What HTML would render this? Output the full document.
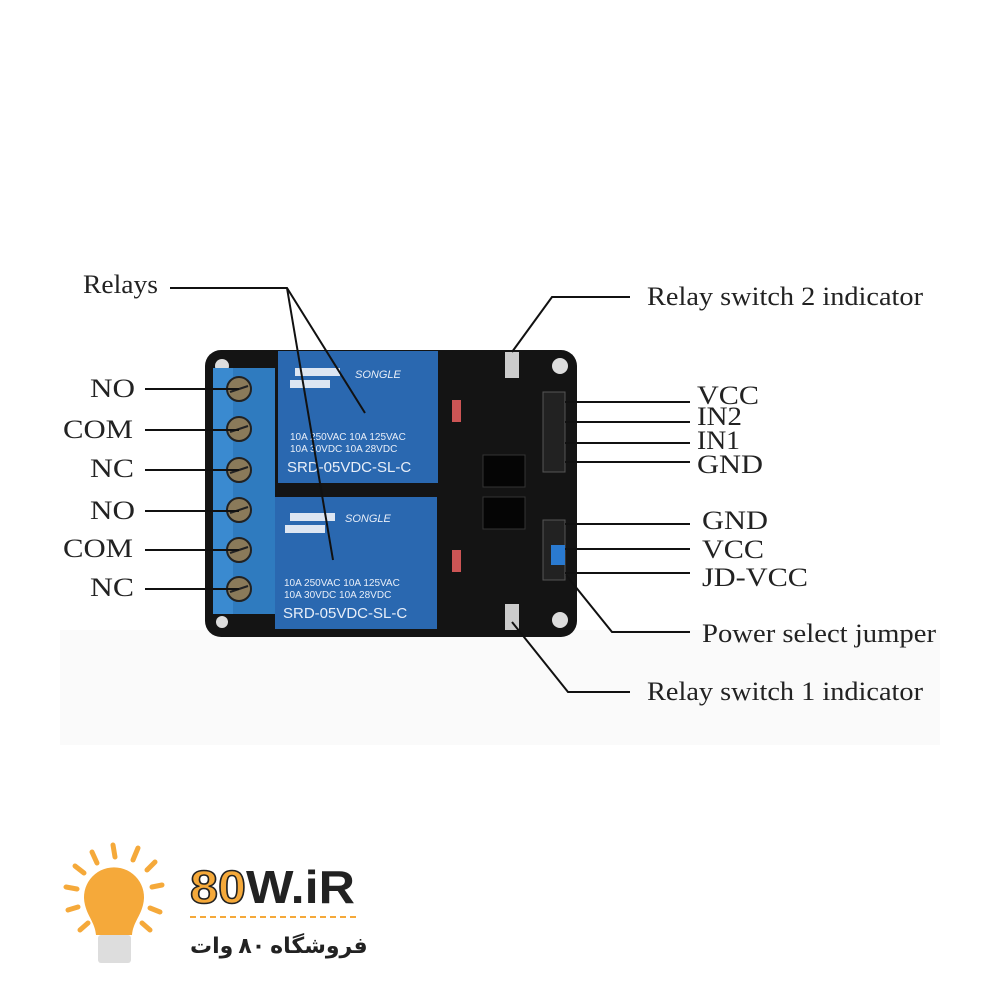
<!DOCTYPE html>
<html><head><style>
html,body{margin:0;padding:0;background:#fff;}
svg{display:block}
.lb{font-family:"Liberation Serif",serif;font-size:26px;fill:#222}
</style></head><body>
<svg width="1000" height="1000" viewBox="0 0 1000 1000" xmlns="http://www.w3.org/2000/svg">
<rect width="1000" height="1000" fill="#fff"/>
<rect x="60" y="630" width="880" height="115" fill="#fafafa"/>
<rect x="205" y="350" width="372" height="287" rx="16" fill="#141414"/>
<circle cx="222" cy="366" r="7" fill="#ddd"/><circle cx="560" cy="366" r="8" fill="#ddd"/>
<circle cx="560" cy="620" r="8" fill="#ddd"/><circle cx="222" cy="622" r="6" fill="#ddd"/>
<rect x="213" y="368" width="62" height="246" fill="#2f7bbf"/>
<rect x="213" y="368" width="20" height="246" fill="#3a8ad0"/>
<g fill="#8a7a5a" stroke="#222" stroke-width="2">
<circle cx="239" cy="389" r="12"/><circle cx="239" cy="429" r="12"/><circle cx="239" cy="470" r="12"/>
<circle cx="239" cy="510" r="12"/><circle cx="239" cy="550" r="12"/><circle cx="239" cy="589" r="12"/>
</g>
<g stroke="#222" stroke-width="2">
<line x1="230" y1="392" x2="248" y2="386"/><line x1="230" y1="432" x2="248" y2="426"/><line x1="230" y1="473" x2="248" y2="467"/>
<line x1="230" y1="513" x2="248" y2="507"/><line x1="230" y1="553" x2="248" y2="547"/><line x1="230" y1="592" x2="248" y2="586"/>
</g>
<rect x="278" y="351" width="160" height="132" fill="#2a68b0"/>
<rect x="275" y="497" width="162" height="132" fill="#2a68b0"/>
<g font-family="Liberation Sans,sans-serif" fill="#e8eef8">
<text x="355" y="378" font-size="11" font-style="italic">SONGLE</text>
<text x="290" y="440" font-size="10">10A 250VAC  10A 125VAC</text>
<text x="290" y="452" font-size="10">10A  30VDC  10A  28VDC</text>
<text x="287" y="472" font-size="15">SRD-05VDC-SL-C</text>
<text x="345" y="522" font-size="11" font-style="italic">SONGLE</text>
<text x="284" y="586" font-size="10">10A 250VAC  10A 125VAC</text>
<text x="284" y="598" font-size="10">10A  30VDC  10A  28VDC</text>
<text x="283" y="618" font-size="15">SRD-05VDC-SL-C</text>
</g>
<rect x="295" y="368" width="45" height="8" fill="#dde6f2"/><rect x="290" y="380" width="40" height="8" fill="#dde6f2"/>
<rect x="290" y="513" width="45" height="8" fill="#dde6f2"/><rect x="285" y="525" width="40" height="8" fill="#dde6f2"/>
<rect x="483" y="455" width="42" height="32" fill="#050505" stroke="#333"/>
<rect x="483" y="497" width="42" height="32" fill="#050505" stroke="#333"/>
<rect x="543" y="392" width="22" height="80" fill="#222" stroke="#555"/>
<rect x="543" y="520" width="22" height="60" fill="#222" stroke="#555"/>
<rect x="551" y="545" width="14" height="20" fill="#2a7ad0"/>
<rect x="505" y="352" width="14" height="26" fill="#ccc"/>
<rect x="505" y="604" width="14" height="26" fill="#ccc"/>
<rect x="452" y="400" width="9" height="22" fill="#c55"/><rect x="452" y="550" width="9" height="22" fill="#c55"/>
<g stroke="#111" stroke-width="2" fill="none">
<polyline points="170,288 287,288 365,413"/><line x1="287" y1="288" x2="333" y2="560"/>
<line x1="145" y1="389" x2="239" y2="389"/><line x1="145" y1="430" x2="239" y2="430"/><line x1="145" y1="470" x2="239" y2="470"/>
<line x1="145" y1="511" x2="239" y2="511"/><line x1="145" y1="550" x2="239" y2="550"/><line x1="145" y1="589" x2="239" y2="589"/>
<polyline points="630,297 552,297 512,352"/>
<line x1="565" y1="402" x2="690" y2="402"/><line x1="565" y1="422" x2="690" y2="422"/>
<line x1="565" y1="443" x2="690" y2="443"/><line x1="565" y1="462" x2="690" y2="462"/>
<line x1="565" y1="524" x2="690" y2="524"/><line x1="565" y1="549" x2="690" y2="549"/>
<line x1="565" y1="573" x2="690" y2="573"/>
<polyline points="690,632 612,632 566,575"/>
<polyline points="630,692 568,692 512,622"/>
</g>
<text class="lb" lengthAdjust="spacingAndGlyphs" x="83" y="293" textLength="75">Relays</text>
<text class="lb" lengthAdjust="spacingAndGlyphs" x="90" y="397" textLength="45">NO</text><text class="lb" lengthAdjust="spacingAndGlyphs" x="63" y="438" textLength="70">COM</text><text class="lb" lengthAdjust="spacingAndGlyphs" x="90" y="477" textLength="44">NC</text>
<text class="lb" lengthAdjust="spacingAndGlyphs" x="90" y="519" textLength="45">NO</text><text class="lb" lengthAdjust="spacingAndGlyphs" x="63" y="557" textLength="70">COM</text><text class="lb" lengthAdjust="spacingAndGlyphs" x="90" y="596" textLength="44">NC</text>
<text class="lb" lengthAdjust="spacingAndGlyphs" x="647" y="305" textLength="276">Relay switch 2 indicator</text>
<text class="lb" lengthAdjust="spacingAndGlyphs" x="697" y="404" textLength="62">VCC</text><text class="lb" lengthAdjust="spacingAndGlyphs" x="697" y="425" textLength="45">IN2</text>
<text class="lb" lengthAdjust="spacingAndGlyphs" x="697" y="449" textLength="43">IN1</text><text class="lb" lengthAdjust="spacingAndGlyphs" x="697" y="473" textLength="66">GND</text>
<text class="lb" lengthAdjust="spacingAndGlyphs" x="702" y="529" textLength="66">GND</text><text class="lb" lengthAdjust="spacingAndGlyphs" x="702" y="558" textLength="62">VCC</text>
<text class="lb" lengthAdjust="spacingAndGlyphs" x="702" y="586" textLength="106">JD-VCC</text>
<text class="lb" lengthAdjust="spacingAndGlyphs" x="702" y="642" textLength="234">Power select jumper</text>
<text class="lb" lengthAdjust="spacingAndGlyphs" x="647" y="700" textLength="276">Relay switch 1 indicator</text>
<g stroke="#f5a93a" stroke-width="5" stroke-linecap="round">
<line x1="113" y1="845" x2="115" y2="857"/><line x1="138" y1="848" x2="133" y2="860"/><line x1="92" y1="852" x2="97" y2="863"/>
<line x1="75" y1="866" x2="84" y2="873"/><line x1="155" y1="862" x2="147" y2="870"/><line x1="66" y1="887" x2="77" y2="889"/>
<line x1="162" y1="885" x2="152" y2="887"/><line x1="68" y1="910" x2="78" y2="907"/><line x1="160" y1="912" x2="150" y2="908"/>
<line x1="80" y1="930" x2="88" y2="923"/><line x1="150" y1="930" x2="142" y2="923"/>
</g>
<path d="M85,905 a30,30 0 1 1 58,0 c-3,12 -10,18 -11,30 h-36 c-1,-12 -8,-18 -11,-30z" fill="#f5a93a"/>
<rect x="98" y="935" width="33" height="28" fill="#ddd" rx="3"/>
<text x="190" y="903" textLength="165" lengthAdjust="spacingAndGlyphs" font-family="Liberation Sans,sans-serif" font-weight="bold" font-size="46" fill="#222"><tspan fill="#f5a93a" stroke="#222" stroke-width="1.5">80</tspan>W.iR</text>
<line x1="190" y1="917" x2="357" y2="917" stroke="#f5a93a" stroke-width="2" stroke-dasharray="6,4"/>
<text x="190" y="953" font-family="'Noto Sans CJK SC','DejaVu Sans',sans-serif" font-weight="bold" font-size="22" fill="#222">فروشگاه ۸۰ وات</text>
</svg>
</body></html>
